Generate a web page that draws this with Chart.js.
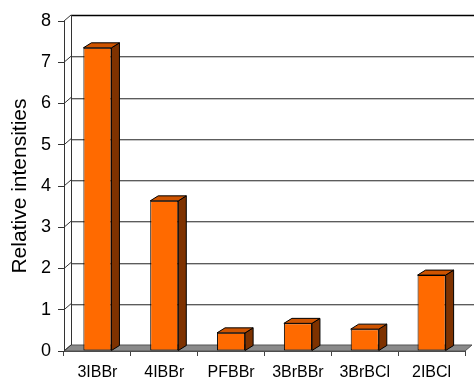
<!DOCTYPE html>
<html>
<head>
<meta charset="utf-8">
<script src="https://cdn.jsdelivr.net/npm/chart.js@4/dist/chart.umd.min.js"></script>
<style>
  html, body { margin: 0; padding: 0; background: #fff; }
  #wrap { width: 474px; height: 383px; }
</style>
</head>
<body>
<div id="wrap"><canvas id="c" width="474" height="383"></canvas></div>
<script>
// Relative intensities per species
const categories = ['3IBBr', '4IBBr', 'PFBBr', '3BrBBr', '3BrBCl', '2IBCl'];
const intensities = [7.35, 3.64, 0.44, 0.67, 0.53, 1.84];
const yTicks = [0, 1, 2, 3, 4, 5, 6, 7, 8];

const FONT = '"Liberation Sans", Arial, sans-serif';
// depth offsets for the 3D look
const WALL_DX = 7, WALL_DY = -6;
const BAR_DX = 8, BAR_DY = -5;

const depthPlugin = {
  id: 'depth3d',
  beforeDatasetsDraw(chart) {
    const { ctx, chartArea: a, scales: { x, y } } = chart;
    const y0 = y.getPixelForValue(0);
    const yTop = y.getPixelForValue(yTicks[yTicks.length - 1]);
    ctx.save();
    // floor
    ctx.beginPath();
    ctx.moveTo(a.left, y0);
    ctx.lineTo(a.right, y0);
    ctx.lineTo(a.right + WALL_DX, y0 + WALL_DY);
    ctx.lineTo(a.left + WALL_DX, y0 + WALL_DY);
    ctx.closePath();
    ctx.fillStyle = '#8a8a8a';
    ctx.fill();
    ctx.strokeStyle = '#555';
    ctx.lineWidth = 1;
    ctx.stroke();
    // back wall gridlines
    yTicks.forEach(v => {
      if (v === 0) return;
      const py = Math.round(y.getPixelForValue(v) + WALL_DY) + 0.5;
      if (v === yTicks[yTicks.length - 1]) {
        ctx.strokeStyle = '#000';
        ctx.lineWidth = 1.6;
        ctx.beginPath();
        ctx.moveTo(a.left + WALL_DX, py);
        ctx.lineTo(a.right + WALL_DX + 10, py);
        ctx.stroke();
      } else {
        ctx.lineWidth = 1;
        ctx.strokeStyle = '#5c5c5c';
        ctx.beginPath();
        ctx.moveTo(a.left + WALL_DX, py);
        ctx.lineTo(a.right + WALL_DX + 10, py);
        ctx.stroke();
        ctx.strokeStyle = '#c4c4c4';
        ctx.beginPath();
        ctx.moveTo(a.left + WALL_DX, py + 1);
        ctx.lineTo(a.right + WALL_DX + 10, py + 1);
        ctx.stroke();
      }
    });
    // left wall edge
    ctx.strokeStyle = '#333';
    ctx.lineWidth = 1;
    ctx.beginPath();
    ctx.moveTo(a.left + WALL_DX + 0.5, yTop + WALL_DY);
    ctx.lineTo(a.left + WALL_DX + 0.5, y0 + WALL_DY);
    ctx.stroke();
    // connectors from front ticks to back wall
    yTicks.forEach(v => {
      const py = y.getPixelForValue(v);
      ctx.beginPath();
      ctx.moveTo(a.left, py);
      ctx.lineTo(a.left + WALL_DX, py + WALL_DY);
      ctx.stroke();
    });
    ctx.restore();
  },
  afterDatasetsDraw(chart) {
    const { ctx } = chart;
    const meta = chart.getDatasetMeta(0);
    ctx.save();
    ctx.lineWidth = 1;
    ctx.strokeStyle = '#000';
    meta.data.forEach(bar => {
      const { x, y, base, width } = bar.getProps(['x', 'y', 'base', 'width'], true);
      const l = x - width / 2, r = x + width / 2;
      // side face
      ctx.beginPath();
      ctx.moveTo(r, y);
      ctx.lineTo(r + BAR_DX, y + BAR_DY);
      ctx.lineTo(r + BAR_DX, base + BAR_DY);
      ctx.lineTo(r, base);
      ctx.closePath();
      ctx.fillStyle = '#7e3200';
      ctx.fill();
      ctx.stroke();
      // top face
      ctx.beginPath();
      ctx.moveTo(l, y);
      ctx.lineTo(l + BAR_DX, y + BAR_DY);
      ctx.lineTo(r + BAR_DX, y + BAR_DY);
      ctx.lineTo(r, y);
      ctx.closePath();
      ctx.fillStyle = '#cf5400';
      ctx.fill();
      ctx.stroke();
    });
    ctx.restore();
  }
};

new Chart(document.getElementById('c'), {
  type: 'bar',
  data: {
    labels: categories,
    datasets: [{
      data: intensities,
      backgroundColor: '#ff6a00',
      borderColor: '#000',
      borderWidth: 1,
      borderSkipped: false,
      categoryPercentage: 1.0,
      barPercentage: 0.42
    }]
  },
  options: {
    responsive: false,
    animation: false,
    events: [],
    layout: { padding: { top: 21, right: 9, left: 0, bottom: 0 } },
    plugins: { legend: { display: false }, tooltip: { enabled: false } },
    scales: {
      x: {
        offset: true,
        grid: { offset: true, drawOnChartArea: false, drawTicks: true, tickLength: 5, color: '#444' },
        border: { display: true, color: '#444', width: 1 },
        ticks: { color: '#000', font: { family: FONT, size: 16 }, padding: 7, maxRotation: 0, autoSkip: false },
        afterFit(s) { s.height = 32; }
      },
      y: {
        min: 0,
        max: 8,
        afterBuildTicks(s) { s.ticks = yTicks.map(v => ({ value: v })); },
        grid: { drawOnChartArea: false, drawTicks: true, tickLength: 6, color: '#333' },
        border: { display: true, color: '#333', width: 1 },
        ticks: { color: '#000', font: { family: FONT, size: 18 }, padding: 7 },
        title: {
          display: true,
          text: 'Relative intensities',
          color: '#000',
          font: { family: FONT, size: 21 },
          padding: { top: 8, bottom: 0 }
        },
        afterFit(s) { s.width = 64; }
      }
    }
  },
  plugins: [depthPlugin]
});
</script>
</body>
</html>
